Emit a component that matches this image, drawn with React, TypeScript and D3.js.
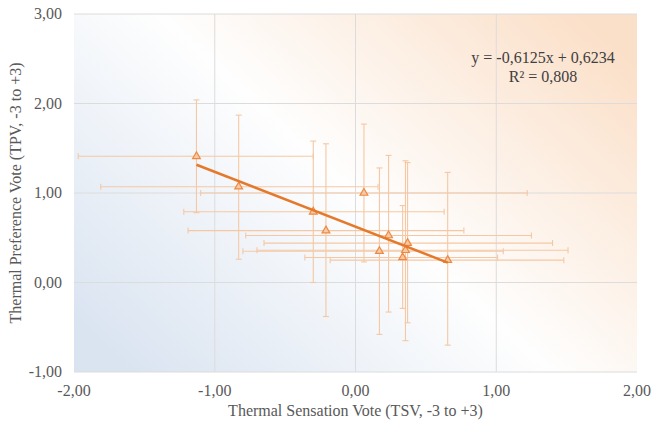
import React from "react";
import * as d3 from "d3";

// Data: TSV (x) vs TPV (y) with error bar ranges
const tsv = [-1.13, -0.83, 0.06, -0.30, -0.21, 0.235, 0.37, 0.17, 0.355, 0.335, 0.655];
const tpv = [1.41, 1.07, 1.0, 0.79, 0.58, 0.525, 0.44, 0.35, 0.36, 0.28, 0.25];
const tsvLow = [-1.97, -1.81, -1.10, -1.22, -1.19, -0.78, -0.65, -0.80, -0.70, -0.36, -0.18];
const tsvHigh = [-0.30, 0.16, 1.22, 0.63, 0.77, 1.25, 1.40, 1.05, 1.51, 1.01, 1.48];
const tpvLow = [0.78, 0.26, 0.23, 0.0, -0.38, -0.33, -0.45, -0.58, -0.65, -0.29, -0.70];
const tpvHigh = [2.04, 1.87, 1.77, 1.58, 1.55, 1.42, 1.34, 1.28, 1.36, 0.86, 1.23];
const xTicks = [-2, -1, 0, 1, 2];
const yTicks = [-1, 0, 1, 2, 3];
const slope = -0.6125;
const intercept = 0.6234;
const eqLabel = "y = -0,6125x + 0,6234";
const r2Label = "R² = 0,808";
const xTitle = "Thermal Sensation Vote (TSV, -3 to +3)";
const yTitle = "Thermal Preference Vote (TPV, -3 to +3)";

const fmt = (v: number) => d3.format(".2f")(v).replace(".", ",").replace("−", "-");

export default function App() {
  const W = 652, H = 424;
  const L = 74, R = 637, T = 14, B = 372;
  const x = d3.scaleLinear().domain([-2, 2]).range([L, R]);
  const y = d3.scaleLinear().domain([-1, 3]).range([B, T]);
  const font = "'Liberation Serif', 'Times New Roman', serif";
  const ebColor = "#f5c8a3";
  const cap = 3;
  const xMin = d3.min(tsv) as number;
  const xMax = d3.max(tsv) as number;
  const tri = d3.symbol().type(d3.symbolTriangle).size(26);
  const fs = 16;

  return (
    <svg width={W} height={H} style={{ position: "absolute", left: 0, top: 0 }}>
      <defs>
        <linearGradient id="bg" x1="0" y1="0.85" x2="1" y2="0.15">
          <stop offset="0" stopColor="#dae4f1" />
          <stop offset="0.5" stopColor="#fefefe" />
          <stop offset="1" stopColor="#fbe0c9" />
        </linearGradient>
      </defs>
      <rect x={0} y={0} width={W} height={H} fill="#fff" />
      <rect x={L} y={T} width={R - L} height={B - T} fill="url(#bg)" />
      {/* grid */}
      {yTicks.map((t) => (
        <line key={"gy" + t} x1={L} x2={R} y1={y(t)} y2={y(t)} stroke="#dcdcdc" strokeWidth={1} />
      ))}
      {xTicks.slice(1, -1).map((t) => (
        <line key={"gx" + t} x1={x(t)} x2={x(t)} y1={T} y2={B} stroke="#dcdcdc" strokeWidth={1} />
      ))}
      {/* error bars */}
      <g stroke={ebColor} strokeWidth={1.1}>
        {tsv.map((xv, i) => (
          <g key={"eb" + i}>
            <line x1={x(tsvLow[i])} x2={x(tsvHigh[i])} y1={y(tpv[i])} y2={y(tpv[i])} />
            <line x1={x(tsvLow[i])} x2={x(tsvLow[i])} y1={y(tpv[i]) - cap} y2={y(tpv[i]) + cap} />
            <line x1={x(tsvHigh[i])} x2={x(tsvHigh[i])} y1={y(tpv[i]) - cap} y2={y(tpv[i]) + cap} />
            <line x1={x(xv)} x2={x(xv)} y1={y(tpvLow[i])} y2={y(tpvHigh[i])} />
            <line x1={x(xv) - cap} x2={x(xv) + cap} y1={y(tpvLow[i])} y2={y(tpvLow[i])} />
            <line x1={x(xv) - cap} x2={x(xv) + cap} y1={y(tpvHigh[i])} y2={y(tpvHigh[i])} />
          </g>
        ))}
      </g>
      {/* markers */}
      {tsv.map((xv, i) => (
        <path
          key={"m" + i}
          d={tri() as string}
          transform={`translate(${x(xv)},${y(tpv[i])})`}
          fill="#f8c9a3"
          stroke="#ec8a45"
          strokeWidth={1.2}
        />
      ))}
      {/* trendline */}
      <line
        x1={x(xMin)}
        x2={x(xMax)}
        y1={y(slope * xMin + intercept)}
        y2={y(slope * xMax + intercept)}
        stroke="#e5792b"
        strokeWidth={2.5}
      />
      {/* equation */}
      <text x={543} y={63} textAnchor="middle" fontFamily={font} fontSize={fs} fill="#404040">
        {eqLabel}
      </text>
      <text x={543} y={82} textAnchor="middle" fontFamily={font} fontSize={fs} fill="#404040">
        {r2Label}
      </text>
      {/* ticks */}
      {yTicks.map((t) => (
        <text key={"yt" + t} x={62} y={y(t) + 5} textAnchor="end" fontFamily={font} fontSize={fs} fill="#595959">
          {fmt(t)}
        </text>
      ))}
      {xTicks.map((t) => (
        <text key={"xt" + t} x={x(t)} y={396} textAnchor="middle" fontFamily={font} fontSize={fs} fill="#595959">
          {fmt(t)}
        </text>
      ))}
      <text x={(L + R) / 2} y={416} textAnchor="middle" fontFamily={font} fontSize={fs} fill="#595959">
        {xTitle}
      </text>
      <text
        transform={`translate(21, ${(T + B) / 2}) rotate(-90)`}
        textAnchor="middle"
        fontFamily={font}
        fontSize={fs}
        fill="#595959"
      >
        {yTitle}
      </text>
    </svg>
  );
}
